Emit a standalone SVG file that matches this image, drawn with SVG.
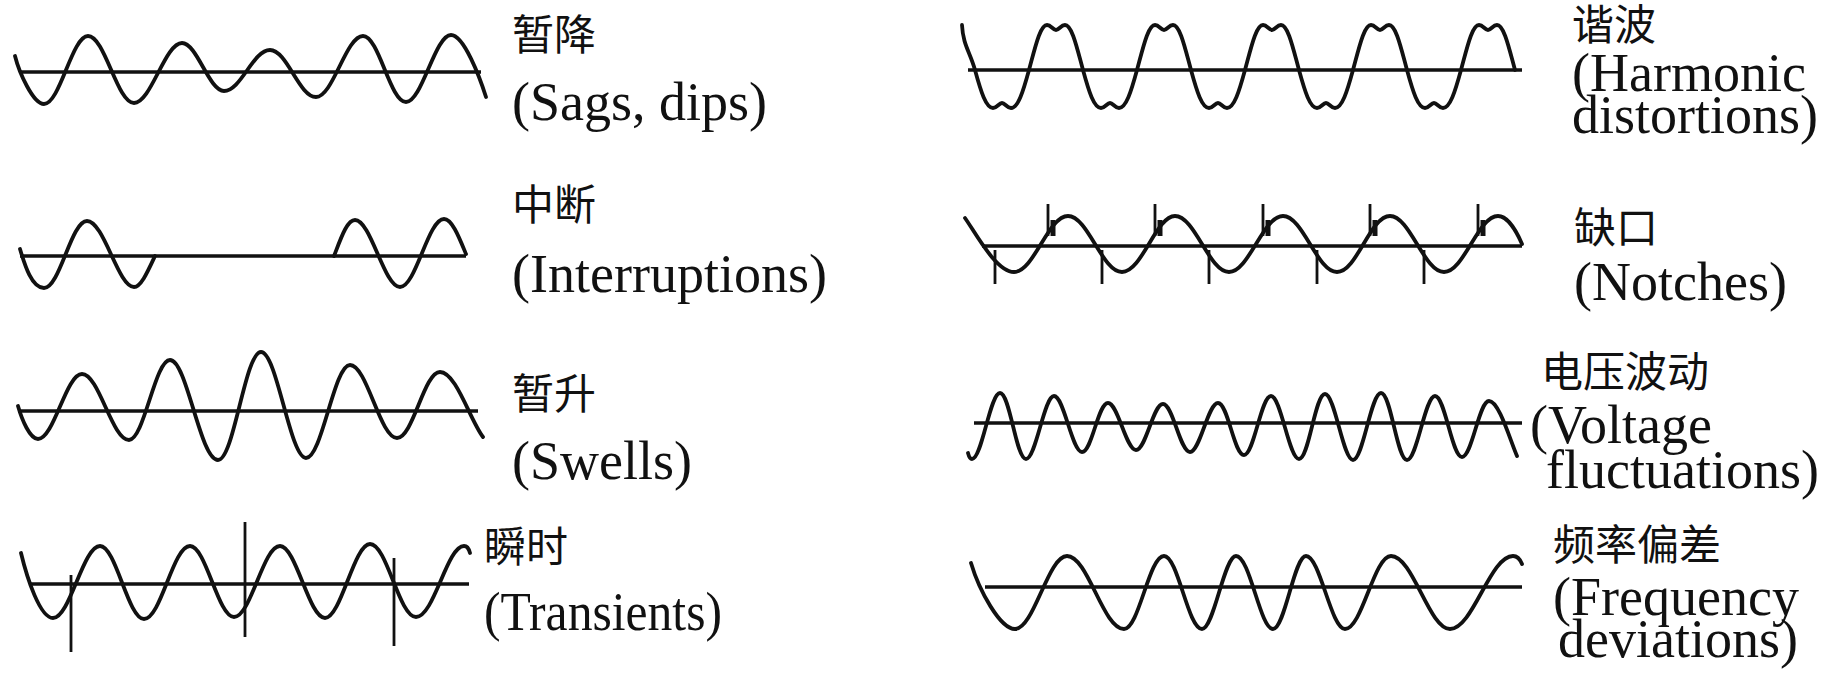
<svg xmlns="http://www.w3.org/2000/svg" width="1838" height="674" viewBox="0 0 1838 674">
<style>
.w{fill:none;stroke:#111;stroke-width:3.8;stroke-linecap:round;stroke-linejoin:round}
.ax{stroke:#111;stroke-width:3.6;stroke-linecap:butt}
.sp{stroke:#111;stroke-width:2.8}
.nb{stroke:#111;stroke-width:5}
.en{font-family:"Liberation Serif","Times New Roman",serif;font-size:54px;fill:#111}
.zh{font-family:"Noto Sans CJK SC","Noto Sans CJK JP",sans-serif;font-size:42px;fill:#111}
</style>
<rect width="1838" height="674" fill="#fff"/>

<g id="sags">
<line class="ax" x1="20" y1="72" x2="481" y2="72"/>
<path class="w" d="M15,56 C19,72 33,104 44,104 C60,104 72,36 88,36 C105,36 117,103 134,103 C151,103 165,43 182,43 C197,43 209,91 224,91 C241,91 253,50 270,50 C287,50 299,97 316,97 C333,97 346,36 363,36 C379,36 390,102 406,102 C422,102 435,35 451,35 C464,35 480,78 486,97"/>
<text class="zh" x="512" y="50">暂降</text>
<text class="en" x="512" y="120">(Sags, dips)</text>
</g>

<g id="interruptions">
<line class="ax" x1="20" y1="256" x2="466" y2="256"/>
<path class="w" d="M20,249 C25,266 32,288 44,288 C60,288 71,221 87,221 C104,221 118,287 134,287 C141,287 148,271 155,256"/>
<path class="w" d="M334,256 C341,238 347,220 355,220 C371,220 384,287 400,287 C416,287 428,219 444,219 C452,219 459,237 466,254"/>
<text class="zh" x="512" y="220">中断</text>
<text class="en" x="512" y="292">(Interruptions)</text>
</g>

<g id="swells">
<line class="ax" x1="18" y1="411" x2="478" y2="411"/>
<path class="w" d="M18,406 C22,420 30,439 38,439 C54,439 66,374 82,374 C99,374 112,440 129,440 C144,440 155,360 170,360 C187,360 200,460 218,460 C234,460 245,352 261,352 C277,352 290,458 306,458 C322,458 334,365 350,365 C367,365 380,438 397,438 C413,438 424,372 440,372 C456,372 470,420 483,437"/>
<text class="zh" x="512" y="409">暂升</text>
<text class="en" x="512" y="479">(Swells)</text>
</g>

<g id="transients">
<line class="ax" x1="29" y1="584" x2="469" y2="584"/>
<path class="w" d="M21,553 C27,578 40,618 53,618 C70,618 83,546 100,546 C116,546 128,619 144,619 C161,619 173,546 190,546 C206,546 218,617 234,617 C251,617 263,546 280,546 C296,546 309,618 325,618 C341,618 354,544 370,544 C387,544 399,617 416,617 C434,617 447,546 464,546 C467,546 469,549 470,553"/>
<line class="sp" x1="71" y1="575" x2="71" y2="652"/>
<line class="sp" x1="245" y1="522" x2="245" y2="637"/>
<line class="sp" x1="394" y1="558" x2="394" y2="646"/>
<text class="zh" x="484" y="562">瞬时</text>
<text class="en" x="484" y="630" textLength="238" lengthAdjust="spacingAndGlyphs">(Transients)</text>
</g>

<g id="harmonics">
<line class="ax" x1="968" y1="70" x2="1522" y2="70"/>
<path class="w" d="M962,25 C963,45 970,52 975,70
c6,22 11,38 18,38 c4,0 6,-5 9,-5 c3,0 5,5 9,5 c7,0 12,-16 18,-38
c6,-22 11,-45 18,-45 c4,0 6,5 9,5 c3,0 5,-5 9,-5 c7,0 12,23 18,45
c6,22 11,38 18,38 c4,0 6,-5 9,-5 c3,0 5,5 9,5 c7,0 12,-16 18,-38
c6,-22 11,-45 18,-45 c4,0 6,5 9,5 c3,0 5,-5 9,-5 c7,0 12,23 18,45
c6,22 11,38 18,38 c4,0 6,-5 9,-5 c3,0 5,5 9,5 c7,0 12,-16 18,-38
c6,-22 11,-45 18,-45 c4,0 6,5 9,5 c3,0 5,-5 9,-5 c7,0 12,23 18,45
c6,22 11,38 18,38 c4,0 6,-5 9,-5 c3,0 5,5 9,5 c7,0 12,-16 18,-38
c6,-22 11,-45 18,-45 c4,0 6,5 9,5 c3,0 5,-5 9,-5 c7,0 12,23 18,45
c6,22 11,38 18,38 c4,0 6,-5 9,-5 c3,0 5,5 9,5 c7,0 12,-16 18,-38
c6,-22 11,-45 18,-45 c4,0 6,5 9,5 c3,0 5,-5 9,-5 c7,0 12,23 18,45"/>
<text class="zh" x="1572" y="40">谐波</text>
<text class="en" x="1572" y="91">(Harmonic</text>
<text class="en" x="1572" y="133">distortions)</text>
</g>

<g id="notches">
<line class="ax" x1="982" y1="246" x2="1522" y2="246"/>
<path class="w" d="M965,218 C975,232 996,272 1014,272 C1034,272 1048,216 1068,216 C1088,216 1102,272 1122,272 C1142,272 1156,216 1175,216 C1195,216 1209,272 1229,272 C1249,272 1263,216 1283,216 C1303,216 1317,272 1337,272 C1357,272 1370,216 1390,216 C1410,216 1424,272 1444,272 C1464,272 1478,216 1498,216 C1507,216 1516,230 1522,244"/>
<g class="sp">
<line x1="1048" y1="204" x2="1048" y2="236"/><line x1="1155" y1="204" x2="1155" y2="236"/><line x1="1263" y1="204" x2="1263" y2="236"/><line x1="1370" y1="204" x2="1370" y2="236"/><line x1="1478" y1="204" x2="1478" y2="236"/>
<line x1="995" y1="250" x2="995" y2="284"/><line x1="1102" y1="250" x2="1102" y2="284"/><line x1="1209" y1="250" x2="1209" y2="284"/><line x1="1317" y1="250" x2="1317" y2="284"/><line x1="1424" y1="250" x2="1424" y2="284"/>
</g>
<g class="nb">
<line x1="1053" y1="220" x2="1053" y2="236"/><line x1="1160" y1="220" x2="1160" y2="236"/><line x1="1268" y1="220" x2="1268" y2="236"/><line x1="1375" y1="220" x2="1375" y2="236"/><line x1="1483" y1="220" x2="1483" y2="236"/>
</g>
<text class="zh" x="1574" y="243">缺口</text>
<text class="en" x="1574" y="300">(Notches)</text>
</g>

<g id="fluctuations">
<line class="ax" x1="974" y1="423" x2="1522" y2="423"/>
<path class="w" d="M968,453 C969,457 970,459 972,459 C982,459 990,393 1000,393 C1010,393 1016,459 1026,459 C1036,459 1044,396 1054,396 C1064,396 1072,452 1082,452 C1092,452 1098,403 1108,403 C1118,403 1126,450 1136,450 C1146,450 1153,404 1163,404 C1173,404 1180,452 1190,452 C1200,452 1208,403 1218,403 C1228,403 1234,455 1244,455 C1254,455 1261,396 1271,396 C1281,396 1289,459 1299,459 C1309,459 1315,394 1325,394 C1335,394 1343,460 1353,460 C1363,460 1371,393 1381,393 C1391,393 1397,460 1407,460 C1417,460 1425,396 1435,396 C1445,396 1452,457 1462,457 C1472,457 1479,401 1489,401 C1499,401 1510,440 1517,456"/>
<text class="zh" x="1541" y="387">电压波动</text>
<text class="en" x="1530" y="443">(Voltage</text>
<text class="en" x="1546" y="488">fluctuations)</text>
</g>

<g id="frequency">
<line class="ax" x1="985" y1="587" x2="1522" y2="587"/>
<path class="w" d="M971,563 C979,590 1000,629 1015,629 C1034,629 1048,556 1067,556 C1088,556 1103,629 1124,629 C1139,629 1149,556 1164,556 C1178,556 1188,629 1202,629 C1214,629 1224,556 1236,556 C1250,556 1260,629 1273,629 C1285,629 1294,556 1306,556 C1320,556 1331,629 1345,629 C1362,629 1374,556 1391,556 C1413,556 1429,629 1450,629 C1473,629 1490,556 1513,556 C1517,556 1520,559 1522,564"/>
<text class="zh" x="1553" y="560">频率偏差</text>
<text class="en" x="1553" y="615">(Frequency</text>
<text class="en" x="1558" y="657">deviations)</text>
</g>
</svg>
